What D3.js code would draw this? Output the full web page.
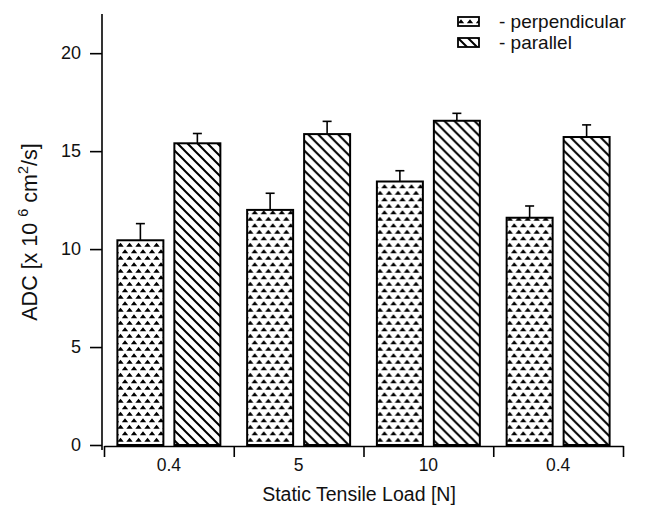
<!DOCTYPE html>
<html>
<head>
<meta charset="utf-8">
<script src="https://cdn.jsdelivr.net/npm/d3@7"></script>
<style>
  body { margin: 0; background: #fff; }
  text { font-family: "Liberation Sans", Arial, sans-serif; fill: #111; }
</style>
</head>
<body>
<div id="chart"></div>
<script>
// load groups (the last group repeats 0.4 N)
const loads = ["0.4", "5", "10", "0.4"];
const series = ["perpendicular", "parallel"];
const perpendicular = [10.45, 12.0, 13.45, 11.6];
const perpendicularErr = [0.85, 0.85, 0.55, 0.6];
const parallel = [15.4, 15.87, 16.55, 15.72];
const parallelErr = [0.5, 0.65, 0.38, 0.62];
const yTicks = [0, 5, 10, 15, 20];

const width = 650, height = 511;
const plot = { left: 104, right: 623, top: 14, bottom: 445 };

const svg = d3.select("#chart")
    .append("svg")
    .attr("width", width)
    .attr("height", height);

const defs = svg.append("defs");

// triangle dot pattern
const tri = defs.append("pattern")
    .attr("id", "tri")
    .attr("patternUnits", "userSpaceOnUse")
    .attr("width", 9)
    .attr("height", 13);
tri.append("path")
    .attr("d", "M-0.2,6.2 L3,2.2 L6.2,6.2 Z M4.3,12.7 L7.5,8.7 L10.7,12.7 Z M-4.7,12.7 L-1.5,8.7 L1.7,12.7 Z")
    .attr("fill", "#000");

// diagonal hatch pattern
const hatch = defs.append("pattern")
    .attr("id", "hatch")
    .attr("patternUnits", "userSpaceOnUse")
    .attr("width", 10)
    .attr("height", 10);
hatch.append("path")
    .attr("d", "M0,0 L10,10 M-2,8 L2,12 M8,-2 L12,2")
    .attr("stroke", "#000")
    .attr("stroke-width", 2);

const x = d3.scaleBand()
    .domain(d3.range(loads.length))
    .range([plot.left, plot.right]);

const xSub = d3.scaleBand()
    .domain(series)
    .range([0, x.bandwidth()])
    .paddingInner(0.193)
    .paddingOuter(0.235);

const y = d3.scaleLinear()
    .domain([0, 22])
    .range([plot.bottom, plot.top]);

const fills = { perpendicular: "url(#tri)", parallel: "url(#hatch)" };

const rows = loads.map((l, i) => ({
    i,
    values: [
        { key: "perpendicular", v: perpendicular[i], e: perpendicularErr[i] },
        { key: "parallel", v: parallel[i], e: parallelErr[i] }
    ]
}));

// Y axis
const yAxis = svg.append("g")
    .attr("transform", "translate(102,0)")
    .call(d3.axisLeft(y).tickValues(yTicks).tickSize(12).tickSizeOuter(0).tickPadding(9));
yAxis.select(".domain").remove();
yAxis.append("line")
    .attr("x1", 0).attr("x2", 0)
    .attr("y1", plot.top).attr("y2", 450)
    .attr("stroke", "#000").attr("stroke-width", 1.6);
yAxis.selectAll(".tick line").attr("stroke", "#000").attr("stroke-width", 1.6);
yAxis.selectAll(".tick text")
    .style("font-size", "18px")
    .style("font-family", "Liberation Sans, Arial, sans-serif")
    .attr("fill", "#111");

// X axis: boundary ticks
const xEdge = d3.scaleLinear().domain([0, loads.length]).range([plot.left, plot.right]);
const xAxis = svg.append("g")
    .attr("transform", "translate(0,446)")
    .call(d3.axisBottom(xEdge).tickValues(d3.range(loads.length + 1)).tickSize(11).tickSizeOuter(0).tickFormat(""));
xAxis.select(".domain").attr("stroke", "#000").attr("stroke-width", 1.6);
xAxis.selectAll(".tick line").attr("stroke", "#000").attr("stroke-width", 1.6);

// X labels at band centres
const xLab = svg.append("g")
    .attr("transform", "translate(0,446)")
    .call(d3.axisBottom(x).tickSize(0).tickPadding(13).tickFormat(i => loads[i]));
xLab.select(".domain").remove();
xLab.selectAll(".tick text")
    .style("font-size", "17.5px")
    .style("font-family", "Liberation Sans, Arial, sans-serif")
    .attr("fill", "#111");

// bars
const group = svg.append("g")
    .selectAll("g")
    .data(rows)
    .enter()
    .append("g")
    .attr("transform", d => `translate(${x(d.i)},0)`);

group.selectAll("rect")
    .data(d => d.values)
    .enter()
    .append("rect")
    .attr("x", d => xSub(d.key))
    .attr("y", d => y(d.v))
    .attr("width", xSub.bandwidth())
    .attr("height", d => y(0) - y(d.v))
    .attr("fill", d => fills[d.key])
    .attr("stroke", "#000")
    .attr("stroke-width", 2);

// error bars (upper only)
const err = group.selectAll("g.err")
    .data(d => d.values)
    .enter()
    .append("g")
    .attr("class", "err")
    .attr("stroke", "#000")
    .attr("stroke-width", 1.6);
err.append("line")
    .attr("x1", d => xSub(d.key) + xSub.bandwidth() / 2)
    .attr("x2", d => xSub(d.key) + xSub.bandwidth() / 2)
    .attr("y1", d => y(d.v))
    .attr("y2", d => y(d.v + d.e));
err.append("line")
    .attr("x1", d => xSub(d.key) + xSub.bandwidth() / 2 - 4.5)
    .attr("x2", d => xSub(d.key) + xSub.bandwidth() / 2 + 4.5)
    .attr("y1", d => y(d.v + d.e))
    .attr("y2", d => y(d.v + d.e));

// axis titles
svg.append("text")
    .attr("x", 359)
    .attr("y", 501)
    .attr("text-anchor", "middle")
    .style("font-size", "19.5px")
    .text("Static Tensile Load [N]");

const yt = svg.append("text")
    .attr("transform", "translate(37,232) rotate(-90)")
    .attr("text-anchor", "middle")
    .style("font-size", "21.5px");
yt.append("tspan").text("ADC [x 10 ");
yt.append("tspan").attr("dy", -9).style("font-size", "14.5px").text("6");
yt.append("tspan").attr("dy", 9).text("  cm");
yt.append("tspan").attr("dy", -9).style("font-size", "14.5px").text("2");
yt.append("tspan").attr("dy", 9).text("/s]");

// legend
const legend = svg.append("g")
    .selectAll("g")
    .data(series)
    .enter()
    .append("g")
    .attr("transform", (d, i) => `translate(458,${17 + i * 21})`);
legend.append("rect")
    .attr("width", 21)
    .attr("height", 9)
    .attr("fill", d => fills[d])
    .attr("stroke", "#000")
    .attr("stroke-width", 1.8);
legend.append("text")
    .attr("x", 41)
    .attr("y", 11)
    .style("font-size", "19px")
    .text(d => "- " + d);
</script>
</body>
</html>
